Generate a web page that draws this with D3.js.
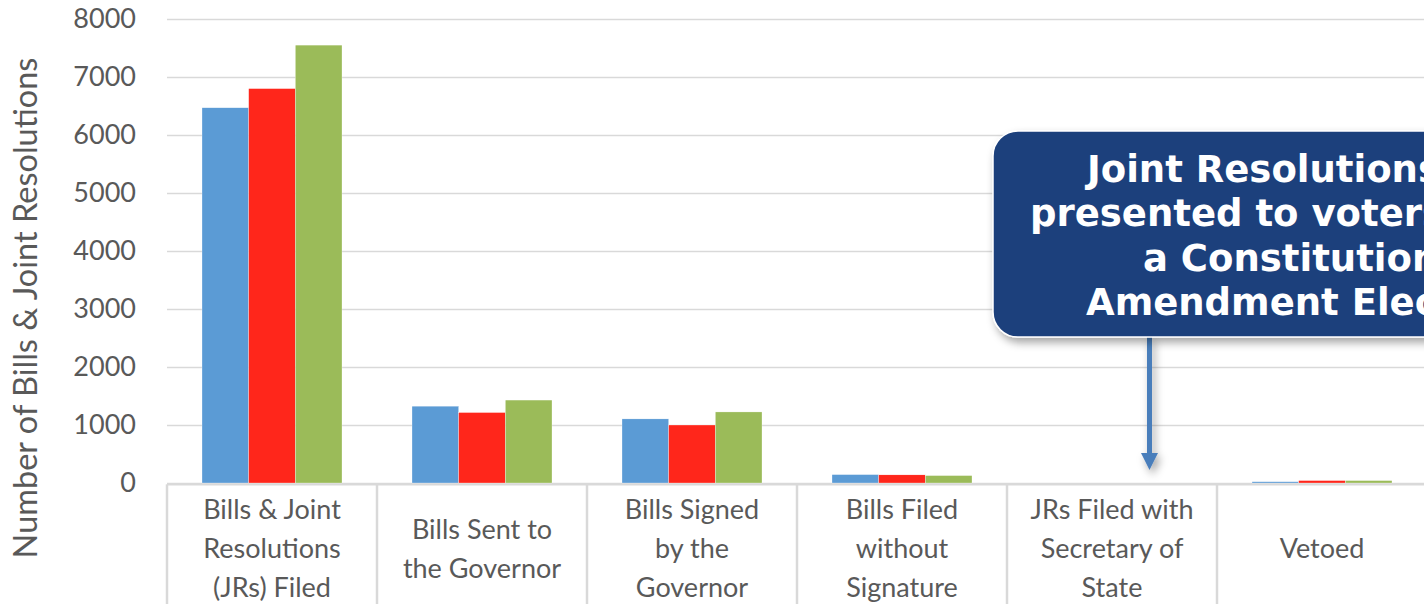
<!DOCTYPE html>
<html>
<head>
<meta charset="utf-8">
<script src="https://cdn.jsdelivr.net/npm/d3@7"></script>
<style>
  body { margin: 0; background: #fff; overflow: hidden; }
  text { font-family: Lato, "Open Sans", sans-serif; }
</style>
</head>
<body>
<svg id="chart" width="1424" height="604"></svg>
<script>
const categories = [
  ["Bills & Joint", "Resolutions", "(JRs) Filed"],
  ["Bills Sent to", "the Governor"],
  ["Bills Signed", "by the", "Governor"],
  ["Bills Filed", "without", "Signature"],
  ["JRs Filed with", "Secretary of", "State"],
  ["Vetoed"],
  [""]
];
const seriesA = [6470, 1325, 1105, 145, 0, 22, 0];
const seriesB = [6800, 1215, 1000, 140, 0, 42, 0];
const seriesC = [7550, 1430, 1225, 128, 0, 42, 0];
const yTicks = [0, 1000, 2000, 3000, 4000, 5000, 6000, 7000, 8000];
const calloutLines = ["Joint Resolutions", "presented to voters at", "a Constitutional", "Amendment Election"];

const colors = ["#5b9bd5", "#ff261b", "#9bbb59"];
const series = [seriesA, seriesB, seriesC];

const svg = d3.select('#chart');
const margin = { left: 167, top: 19, bottom: 121 };
const bandW = 210;
const innerWidth = bandW * categories.length;
const innerHeight = 604 - margin.top - margin.bottom;

const g = svg.append('g')
  .attr('transform', `translate(${margin.left},${margin.top})`);

// group of 140 px inside each 210 px slot
const xScale = d3.scaleBand()
  .domain(d3.range(categories.length))
  .range([0, innerWidth])
  .paddingInner(1 / 3)
  .paddingOuter(1 / 6);

const xSub = d3.scaleBand()
  .domain(d3.range(series.length))
  .range([0, xScale.bandwidth()]);

const yScale = d3.scaleLinear()
  .domain([0, 8000])
  .range([innerHeight, 0]);

// gridlines + tick labels
const yAxis = d3.axisLeft(yScale)
  .tickValues(yTicks)
  .tickSize(-innerWidth)
  .tickPadding(31)
  .tickFormat(d3.format('d'));

const yAxisG = g.append('g').call(yAxis);
yAxisG.select('.domain').remove();
yAxisG.selectAll('.tick line').attr('stroke', '#d9d9d9').attr('stroke-width', 1.3);
yAxisG.selectAll('.tick text')
  .attr('fill', '#595959')
  .style('font-size', '27px');

g.append('text')
  .attr('x', -289)
  .attr('y', -130)
  .attr('transform', 'rotate(-90)')
  .style('text-anchor', 'middle')
  .style('font-size', '32.5px')
  .attr('fill', '#595959')
  .text('Number of Bills & Joint Resolutions');

// category label table (drawn first, bars sit on top)
const axisG = g.append('g').attr('transform', `translate(0,${innerHeight + 1.3})`);
axisG.append('line')
  .attr('x1', 0).attr('x2', innerWidth)
  .attr('stroke', '#d9d9d9').attr('stroke-width', 2.5);
axisG.selectAll('.sep')
  .data(d3.range(categories.length + 1))
  .join('line')
  .attr('x1', i => i * bandW).attr('x2', i => i * bandW)
  .attr('y1', 0).attr('y2', 140)
  .attr('stroke', '#d9d9d9').attr('stroke-width', 2.5);

axisG.selectAll('.lbl')
  .data(categories)
  .join('text')
  .attr('transform', (c, i) => `translate(${xScale(i) + xScale.bandwidth() / 2},0)`)
  .style('text-anchor', 'middle')
  .style('font-size', '27px')
  .attr('fill', '#595959')
  .each(function (lines) {
    const t = d3.select(this);
    const start = 66 - (lines.length - 1) * 19.5 + 8;
    lines.forEach((ln, j) => {
      t.append('tspan').attr('x', 0).attr('y', start + j * 39).text(ln);
    });
  });

// bars
const groups = g.selectAll('.grp')
  .data(categories.map((c, i) => i))
  .join('g')
  .attr('transform', i => `translate(${xScale(i)},0)`);

groups.selectAll('rect')
  .data(i => series.map((s, k) => ({ k, v: s[i] })))
  .join('rect')
  .attr('x', d => xSub(d.k))
  .attr('width', xSub.bandwidth())
  .attr('y', d => yScale(d.v))
  .attr('height', d => innerHeight - yScale(d.v))
  .attr('fill', d => colors[d.k])
  .attr('stroke', '#fff')
  .attr('stroke-width', 0.3);

// callout
const defs = svg.append('defs');
const f = defs.append('filter').attr('id', 'shadow')
  .attr('filterUnits', 'userSpaceOnUse')
  .attr('x', 0).attr('y', 0).attr('width', 1424).attr('height', 604);
f.append('feDropShadow').attr('dx', 3).attr('dy', 5).attr('stdDeviation', 4)
  .attr('flood-color', '#000').attr('flood-opacity', 0.35);

const ax = 1149.5, aTop = 336, aHead = 453, aTip = 470;
svg.append('path')
  .attr('d', `M${ax - 2.5},${aTop} L${ax + 2.5},${aTop} L${ax + 2.5},${aHead} L${ax + 8.5},${aHead}
              L${ax},${aTip} L${ax - 8.5},${aHead} L${ax - 2.5},${aHead} Z`)
  .attr('fill', '#4a7ebb')
  .attr('filter', 'url(#shadow)');

svg.append('rect')
  .attr('x', 993).attr('y', 131)
  .attr('width', 560).attr('height', 206)
  .attr('rx', 25).attr('ry', 25)
  .attr('fill', '#1c3f7c')
  .attr('stroke', '#ffffff').attr('stroke-width', 1.5)
  .attr('filter', 'url(#shadow)');

const lineStart = [1087, 1030, 1143, 1086];
svg.append('text')
  .style('font-family', '"DejaVu Sans", Verdana, sans-serif')
  .style('font-weight', 'bold')
  .style('font-size', '37px')
  .attr('fill', '#fff')
  .selectAll('tspan')
  .data(calloutLines)
  .join('tspan')
  .attr('x', (d, i) => lineStart[i])
  .attr('y', (d, i) => 182 + i * 44.3)
  .text(d => d);
</script>
</body>
</html>
